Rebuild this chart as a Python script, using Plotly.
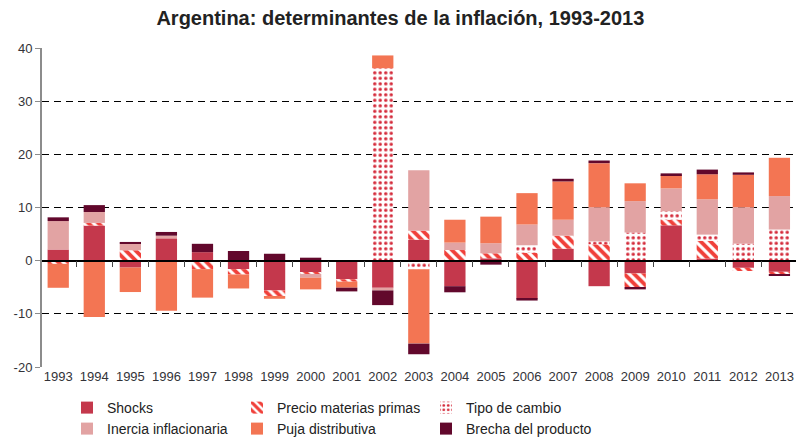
import plotly.graph_objects as go

years = [str(y) for y in range(1993, 2014)]

shocks     = [2.1, 6.6, -1.3, 4.2, 1.6, -1.6, -5.6, -2.25, -3.5, -5.1, 3.95, -4.8, 0.44, -7.15, 2.25, -4.8, -2.4, 6.65, 0.4, -1.35, -2.1]
precio     = [-0.6, 0.5, 1.95, 0, -1.6, -1.0, -1.2, -0.25, -0.45, 0, 1.7, 2.0, 0.94, 1.5, 2.45, 3.07, -2.7, 1.05, 3.35, -0.6, -0.45]
tipo       = [0, 0, 0, 0, 0, 0, 0, 0, 0, 36.2, -1.6, 0, 0, 1.4, 0, 0.55, 5.3, 1.6, 1.15, 3.2, 5.85]
inercia    = [5.35, 2.05, 1.2, 0.5, 0, 0, 0, -0.7, 0, -0.5, 11.35, 1.4, 1.9, 3.9, 3.0, 6.44, 5.9, 4.3, 6.65, 6.85, 6.3]
puja       = [-4.5, -10.6, -4.6, -9.4, -5.35, -2.63, -0.37, -2.2, -1.13, 2.4, -14.0, 4.3, 5.0, 5.9, 7.2, 8.28, 3.35, 2.5, 4.7, 6.1, 7.2]
brecha     = [0.7, 1.3, 0.37, 0.7, 1.57, 1.82, 1.3, 0.56, -0.7, -2.76, -2.0, -1.15, -0.75, -0.35, 0.5, 0.5, -0.3, 0.32, 0.88, 0.45, -0.15]

y_ticks = [-20, -10, 0, 10, 20, 30, 40]
y_ticktext = ["-20", "-10", "0", "10", "20", "30", "40"]

FONT = "Liberation Sans, Arial, sans-serif"
TXT = "#333338"

xpos = list(range(len(years)))

fig = go.Figure()

def add_bar(name, vals, legend, color=None, pattern=None):
    marker = dict(line=dict(width=0))
    if pattern:
        marker["color"] = "white"
        marker["pattern"] = pattern
    else:
        marker["color"] = color
    fig.add_trace(go.Bar(x=xpos, y=vals, name=name, marker=marker,
                         legend=legend, width=0.59))

add_bar("Shocks", shocks, "legend", color="#C4384C")
add_bar("Precio materias primas", precio, "legend2",
        pattern=dict(shape="\\", fgcolor="#F0403A", bgcolor="white", fgopacity=1,
                     size=7, solidity=0.55, fillmode="overlay"))
add_bar("Tipo de cambio", tipo, "legend3",
        pattern=dict(shape=".", fgcolor="#D42A3A", bgcolor="white", fgopacity=1,
                     size=5.5, solidity=0.3, fillmode="overlay"))
add_bar("Inercia inflacionaria", inercia, "legend4", color="#E2A3A3")
add_bar("Puja distributiva", puja, "legend5", color="#F37553")
add_bar("Brecha del producto", brecha, "legend6", color="#62082C")

# invisible helper trace for the zero-line axis with boundary ticks
fig.add_trace(go.Scatter(x=[0], y=[0], xaxis="x2", yaxis="y", mode="markers",
                         marker=dict(opacity=0), showlegend=False, hoverinfo="skip"))

xr = [-0.45, 20.46]
fig.update_layout(
    width=796, height=437,
    margin=dict(l=42, r=0, t=48, b=70, autoexpand=False),
    barmode="relative",
    plot_bgcolor="white", paper_bgcolor="white",
    font=dict(family=FONT, size=13, color=TXT),
    title=dict(text="<b>Argentina: determinantes de la inflación, 1993-2013</b>",
               x=0.503, xref="container", xanchor="center",
               y=1 - 11 / 437, yref="container", yanchor="top",
               font=dict(family=FONT, size=20, color="#222222")),
    xaxis=dict(range=xr, tickvals=xpos, ticktext=years, showgrid=False,
               showline=False, zeroline=False, automargin=False,
               ticks="", tickfont=dict(size=13, color=TXT)),
    xaxis2=dict(overlaying="x", anchor="free", position=1/3, range=xr,
                tickvals=[i + 0.5 for i in xpos[:-1]], automargin=False,
                ticks="outside", ticklen=6, tickwidth=1, tickcolor="#444444",
                showticklabels=False, showgrid=False, zeroline=False,
                showline=True, linecolor="black", linewidth=1.5, side="bottom"),
    yaxis=dict(range=[-20, 40], tickvals=y_ticks, ticktext=y_ticktext,
               showgrid=True, automargin=False,
               gridcolor="black", griddash="7px,5px", gridwidth=1,
               zeroline=False, showline=True, linecolor="#8C8C8C", linewidth=2,
               ticks="outside", ticklen=5, tickcolor="#8C8C8C",
               tickfont=dict(size=13, color=TXT)),
    showlegend=True,
)

col_x = [109, 279, 468]
row_y = [408, 429]
leg_names = ["legend", "legend2", "legend3", "legend4", "legend5", "legend6"]
legend_layout = {}
for i, ln in enumerate(leg_names):
    r, c = divmod(i, 3)
    legend_layout[ln] = dict(
        x=(col_x[c] - 42) / 796, xref="container", xanchor="left",
        y=1 - row_y[r] / 437, yref="container", yanchor="middle",
        bgcolor="rgba(0,0,0,0)", borderwidth=0,
        font=dict(family=FONT, size=14, color="#222222"),
        itemwidth=30,
    )
fig.update_layout(**legend_layout)

fig.write_html("out.html", config={"displayModeBar": False},
               post_script="document.body.style.margin='0';document.body.style.overflow='hidden';")
